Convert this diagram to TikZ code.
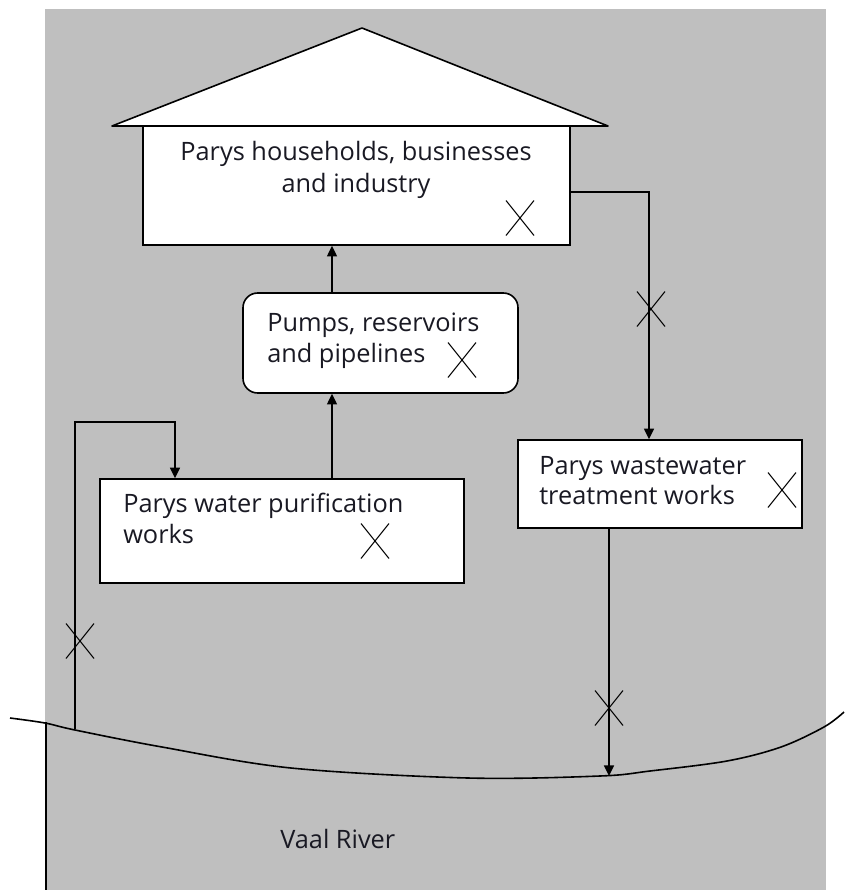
\documentclass[tikz,border=0pt]{standalone}
\usepackage{fontspec}
\setmainfont{Open Sans}
\usetikzlibrary{arrows.meta,calc}
\definecolor{paper}{RGB}{191,191,191}
\definecolor{inktext}{RGB}{25,25,35}
\begin{document}
\begin{tikzpicture}[x=0.75pt,y=-0.75pt,
  line/.style={draw=black,line width=1.2pt},
  arr/.style={line,-{Triangle[length=8pt,width=7.5pt]}},
  box/.style={draw=black,line width=1.2pt,fill=white,inner sep=0pt},
  xm/.style={draw=black,line width=0.8pt},
  lbl/.style={font=\fontsize{19}{23.25}\selectfont,inner sep=0pt,text=inktext},
  xcross/.pic={\draw[xm] (-14,-17.5) -- (14,17.5) (-14,17.5) -- (14,-17.5);}]
\useasboundingbox (0,0) rectangle (844,890);
% land and river area
\fill[paper] (45,9) rectangle (826,890);

% house: roof and walls
\draw[line,fill=white,line join=round] (112,126) -- (362,28) -- (608,126) -- cycle;
\node[box,minimum width=320.25pt,minimum height=89.25pt] (house) at (356.5,185.5) {};
\node[box,rounded corners=11pt,minimum width=206.25pt,minimum height=75pt] (pump) at (380.5,343) {};
\node[box,minimum width=273pt,minimum height=78pt] (pur) at (282,531) {};
\node[box,minimum width=213pt,minimum height=66pt] (ww) at (660,484) {};

% labels
\node[lbl,anchor=base] (houseA) at (356,160) {Parys households, businesses};
\node[lbl,anchor=base] (houseB) at (356,192) {and industry};
\node[lbl,anchor=base west] (pumpA) at (267,331) {Pumps, reservoirs};
\node[lbl,anchor=base west] (pumpB) at (267,362) {and pipelines};
\node[lbl,anchor=base west] (purA) at (123,512) {Parys water purification};
\node[lbl,anchor=base west] (purB) at (123,543) {works};
\node[lbl,anchor=base west] (wwA) at (539,474) {Parys wastewater};
\node[lbl,anchor=base west] (wwB) at (539,504) {treatment works};
\node[lbl,anchor=base west] (river) at (280,848) {Vaal River};

% river bank
\draw[line] plot[smooth,tension=0.55] coordinates {(10,718) (45,723) (75,730) (162,747) (291,768) (468,778) (600,776) (650,771) (727,761) (781,747) (824,727) (844,712)};
\draw[line] (46,722) -- (46,890);

% flow connectors
\coordinate (upx) at (332,0);
\coordinate (intake) at (75,729);
\coordinate (ik) at (75,422);
\coordinate (ik2) at (175,422);
\coordinate (wx) at (649,192);
\coordinate (outfall) at (609,776);
\draw[arr] (intake) -- (ik) -- (ik2) -- (pur.north -| ik2);
\draw[arr] (pur.north -| upx) -- (pump.south -| upx);
\draw[arr] (pump.north -| upx) -- (house.south -| upx);
\draw[arr] (wx -| house.east) -- (wx) -- (ww.north -| wx);
\draw[arr] (ww.south -| outfall) -- (outfall);

% crosses
\pic at (520,218) {xcross};
\pic at (462,360) {xcross};
\pic at (375,541) {xcross};
\pic at (782,490) {xcross};
\pic at (651,309) {xcross};
\pic at (609,708) {xcross};
\pic at (80,641) {xcross};
\end{tikzpicture}
\end{document}
